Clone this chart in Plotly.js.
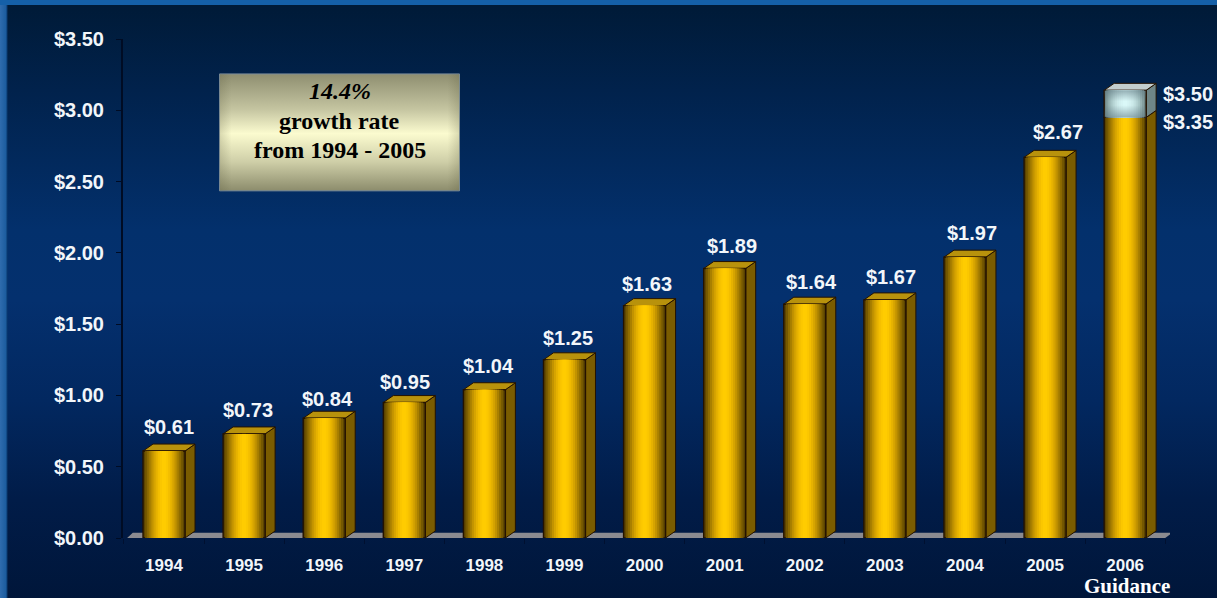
<!DOCTYPE html>
<html>
<head>
<meta charset="utf-8">
<script src="https://cdn.plot.ly/plotly-3.0.1.min.js"></script>
<style>
html,body{margin:0;padding:0;width:1217px;height:598px;overflow:hidden;background:#00163a}
#frame{position:absolute;left:0;top:0;width:1217px;height:598px;
background:
 linear-gradient(180deg,#1560a8 0,#1560a8 5px,transparent 5px),
 linear-gradient(90deg,#2f6cae 0,#1c5c9e 6px,#0a3a70 7px,transparent 8px),
 linear-gradient(180deg,#001a36 0,#01224c 90px,#03306c 230px,#04306e 300px,#022860 400px,#011c48 500px,#00163a 598px);}
#chart{position:absolute;left:0;top:0;width:1217px;height:598px}
</style>
</head>
<body>
<div id="frame"></div>
<div id="chart"></div>
<script>
// ---- data ----
const years = ['1994','1995','1996','1997','1998','1999','2000','2001','2002','2003','2004','2005','2006'];
const values = [0.61,0.73,0.84,0.95,1.04,1.25,1.63,1.89,1.64,1.67,1.97,2.67,2.95];
const barLabels = ['$0.61','$0.73','$0.84','$0.95','$1.04','$1.25','$1.63','$1.89','$1.64','$1.67','$1.97','$2.67',''];
const guidanceBase = 2.95;
const guidanceTop = 3.14;
const guidanceLabels = ['$3.50','$3.35'];
const yTicks = [0,0.5,1,1.5,2,2.5,3,3.5];
const boxLines = ['<b><i>14.4%</i></b>','<b>growth rate</b>','<b>from 1994 - 2005</b>'];

// ---- style ----
const BAR_W = 0.524, DX = 0.125, DY = 0.049;
const EDGE = '#241200';
const goldStops = ['#5a4300','#755800','#8f6c00','#a98000','#c29300','#d6a400','#e6b200','#f3be00','#fbc700','#ffcc00'];
const iceStops  = ['#6f8686','#85a0a0','#98b4b4','#a8c6c6','#b6d4d4','#c2e0e0','#cceaea','#d2f0f0','#d6f4f4','#daf8f8'];
const labelDx = [5,4,3,1,4,4,2,7,7,6,7,13];
const labelDy = [24,24,19,21,24,22,22,23,22,23,24,25];
const XRANGE=[-0.512,12.56];

const traces = [];
function addFace(xs, ys, bases, stops){
  stops.forEach((c,k)=>{
    const w = BAR_W*(1 - k/stops.length);
    traces.push({type:'bar',x:xs,y:ys,base:bases,width:w,
      marker:{color:c,line:{width:k===0?1.4:0,color:EDGE}},
      hoverinfo:'skip',showlegend:false});
  });
}
addFace(years, values, values.map(()=>0), goldStops);
addFace([years[12]], [guidanceTop-guidanceBase], [guidanceBase], iceStops);

// vertical shading over the guidance band
const toX2 = v => (v-XRANGE[0])/(XRANGE[1]-XRANGE[0]);
const gL=toX2(12-BAR_W/2+0.008), gR=toX2(12+BAR_W/2-0.008);
traces.push({type:'scatter',xaxis:'x2',yaxis:'y',mode:'none',
  x:[gL,gR,gR,gL,gL],y:[guidanceBase,guidanceBase,guidanceTop,guidanceTop,guidanceBase],
  fill:'toself',hoverinfo:'skip',showlegend:false,
  fillgradient:{type:'vertical',colorscale:[[0,'rgba(90,115,125,0.55)'],[0.45,'rgba(90,115,125,0)'],[0.6,'rgba(90,115,125,0)'],[1,'rgba(90,115,125,0.55)']]}});

// text box (on hidden overlay x axis)
const boxX=[0.0922,0.3214], boxY=[2.435,3.255];
traces.push({type:'scatter',xaxis:'x2',yaxis:'y',mode:'lines',
  x:[boxX[0],boxX[1],boxX[1],boxX[0],boxX[0]],y:[boxY[0],boxY[0],boxY[1],boxY[1],boxY[0]],
  fill:'toself',line:{color:'#7d8f9c',width:1},hoverinfo:'skip',showlegend:false,
  fillgradient:{type:'vertical',colorscale:[[0,'#8c8c6c'],[0.25,'#cfcfa8'],[0.49,'#fbfbcf'],[0.7,'#c4c4a0'],[1,'#8e8e70']]}});
traces.push({type:'scatter',xaxis:'x2',yaxis:'y',mode:'none',
  x:[boxX[0],boxX[1],boxX[1],boxX[0],boxX[0]],y:[boxY[0],boxY[0],boxY[1],boxY[1],boxY[0]],
  fill:'toself',hoverinfo:'skip',showlegend:false,
  fillgradient:{type:'horizontal',colorscale:[[0,'rgba(80,80,50,0.2)'],[0.05,'rgba(80,80,50,0)'],[0.95,'rgba(80,80,50,0)'],[1,'rgba(80,80,50,0.2)']]}});

// 3-D faces and floor
const shapes = [];
const poly = pts => 'M'+pts.map(p=>p[0]+','+p[1]).join('L')+'Z';
function box3d(i, lo, hi, sideCol, capCol){
  const l=i-BAR_W/2, r=i+BAR_W/2;
  shapes.push({type:'path',layer:'below',xref:'x',yref:'y',fillcolor:sideCol,line:{color:EDGE,width:1},
    path:poly([[r,lo],[r+DX,lo+DY],[r+DX,hi+DY],[r,hi]])});
  if(capCol) shapes.push({type:'path',layer:'below',xref:'x',yref:'y',fillcolor:capCol,line:{color:EDGE,width:1},
    path:poly([[l,hi],[l+DX,hi+DY],[r+DX,hi+DY],[r,hi]])});
}
shapes.push({type:'path',layer:'below',xref:'x',yref:'y',fillcolor:'#8b8b90',line:{width:0},
  path:poly([[-0.46,0],[-0.39,0.037],[12.59,0.037],[12.5,0]])});
values.forEach((v,i)=>box3d(i,0,v,'#7a5c00',i===12?null:'#b8920c'));
box3d(12,guidanceBase,guidanceTop,'#6f8687','#c3cdcd');

const L=123,R=1170,T=39,B=538;
const white='#f2f6fa';
const sans={family:'Liberation Sans',size:20,color:white,weight:'bold'};
const annotations = [];
barLabels.forEach((t,i)=>{ if(t) annotations.push({x:i,y:values[i],xref:'x',yref:'y',text:t,showarrow:false,
  xshift:labelDx[i],yshift:labelDy[i],font:sans}); });
annotations.push({x:12,y:guidanceTop,xref:'x',yref:'y',text:guidanceLabels[0],showarrow:false,xanchor:'left',xshift:36,yshift:-4,font:sans});
annotations.push({x:12,y:guidanceBase,xref:'x',yref:'y',text:guidanceLabels[1],showarrow:false,xanchor:'left',xshift:36,yshift:-5,font:sans});
[91,121,150].forEach((py,k)=>annotations.push({x:(boxX[0]+boxX[1])/2,y:(B-py)/(B-T)*3.5,xref:'x2',yref:'y',showarrow:false,
  text:boxLines[k],xanchor:'center',yanchor:'middle',font:{family:'Liberation Serif',size:24,color:'#000'}}));
annotations.push({x:(1127-L)/(R-L),y:(B-586)/(B-T),xref:'paper',yref:'paper',text:'<b>Guidance</b>',showarrow:false,
  xanchor:'center',yanchor:'middle',font:{family:'Liberation Serif',size:21,color:'#fff'}});

const layout = {
  width:1217,height:598,
  paper_bgcolor:'rgba(0,0,0,0)',plot_bgcolor:'rgba(0,0,0,0)',
  margin:{l:L,r:1217-R,t:T,b:598-B,pad:0},
  barmode:'overlay',showlegend:false,
  xaxis:{type:'category',categoryorder:'array',categoryarray:years,range:XRANGE,
    tickson:'boundaries',ticks:'outside',ticklen:5,tickcolor:'#001030',tickwidth:1,
    showgrid:false,zeroline:false,showline:false,ticklabelstandoff:15,
    tickfont:{family:'Liberation Sans',size:17,color:white,weight:'bold'}},
  xaxis2:{overlaying:'x',range:[0,1],visible:false,anchor:'y'},
  yaxis:{range:[0,3.5],tickvals:yTicks,tickformat:'$.2f',ticks:'outside',ticklen:5,tickcolor:'#000c24',
    showgrid:false,zeroline:false,showline:true,linecolor:'#000c24',linewidth:2,ticklabelstandoff:8,
    tickfont:{family:'Liberation Sans',size:20,color:white,weight:'bold'}},
  shapes,annotations
};
Plotly.newPlot('chart',traces,layout,{displayModeBar:false,staticPlot:true});
</script>
</body>
</html>
